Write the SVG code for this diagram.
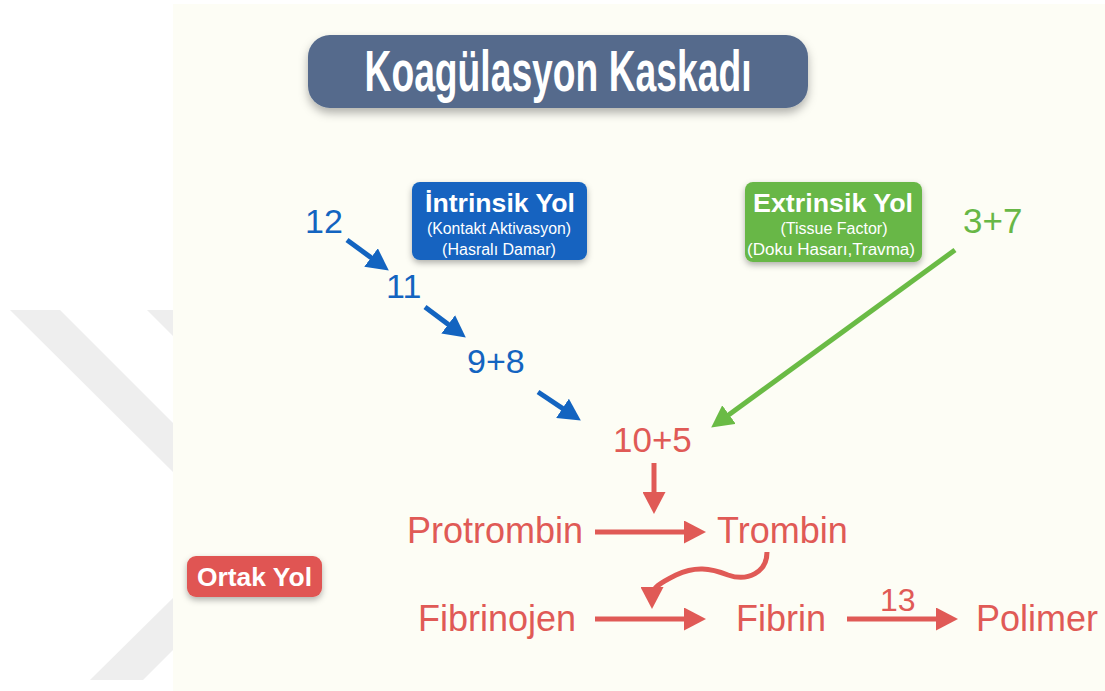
<svg xmlns="http://www.w3.org/2000/svg" width="1105" height="691" viewBox="0 0 1105 691">
<defs>
<style>
.t{font-family:"Liberation Sans",Arial,sans-serif}
.b{font-weight:bold}
.blue{fill:#1364c0}
.red{fill:#e05a56}
.green{fill:#68b746}
.wt{fill:#ffffff}
.lb{stroke:#1364c0;stroke-width:5;fill:none}
.lr{stroke:#e05a56;stroke-width:5;fill:none}
.lg{stroke:#6abb45;stroke-width:5;fill:none}
</style>
<filter id="sh" x="-10%" y="-20%" width="120%" height="160%">
<feDropShadow dx="0" dy="3" stdDeviation="3" flood-color="#000" flood-opacity="0.3"/>
</filter>
<filter id="shT" x="-10%" y="-30%" width="120%" height="180%">
<feDropShadow dx="0" dy="5" stdDeviation="5" flood-color="#000" flood-opacity="0.3"/>
</filter>
<marker id="mb" markerUnits="userSpaceOnUse" markerWidth="23" markerHeight="23" refX="9" refY="11.5" orient="auto"><path d="M0,0 L22,11.5 L0,23 z" fill="#1364c0"/></marker>
<marker id="mr" markerUnits="userSpaceOnUse" markerWidth="23" markerHeight="23" refX="9" refY="11.5" orient="auto"><path d="M0,0 L22,11.5 L0,23 z" fill="#e05a56"/></marker>
<marker id="mg" markerUnits="userSpaceOnUse" markerWidth="23" markerHeight="23" refX="9" refY="11.5" orient="auto"><path d="M0,0 L22,11.5 L0,23 z" fill="#6abb45"/></marker>
</defs>
<rect x="0" y="0" width="1105" height="691" fill="#ffffff"/>
<g id="watermark" fill="#eeeeee">
<polygon points="10,310 60,310 173,423 173,472"/>
<polygon points="147,310 173,310 173,336"/>
<polygon points="90,680 143,680 173,650 173,598"/>
</g>
<rect x="173" y="4" width="932" height="687" fill="#fdfdf5"/>

<g id="title">
<rect x="308" y="35" width="500" height="73" rx="22" fill="#546a8c" filter="url(#shT)"/>
<text class="t b wt" x="558" y="91" font-size="57" text-anchor="middle" textLength="387" lengthAdjust="spacingAndGlyphs">Koagülasyon Kaskadı</text>
</g>

<g id="intrinsic">
<rect x="412" y="182" width="175" height="78" rx="8" fill="#1364c0" filter="url(#sh)"/>
<text class="t b wt" x="500" y="212" font-size="25" text-anchor="middle" textLength="150" lengthAdjust="spacingAndGlyphs">İntrinsik Yol</text>
<text class="t wt" x="499" y="234" font-size="16" text-anchor="middle" textLength="144" lengthAdjust="spacingAndGlyphs">(Kontakt Aktivasyon)</text>
<text class="t wt" x="499" y="255" font-size="16" text-anchor="middle">(Hasralı Damar)</text>
</g>

<g id="extrinsic">
<rect x="745" y="182" width="177" height="80" rx="8" fill="#68b746" filter="url(#sh)"/>
<text class="t b wt" x="833" y="212" font-size="25" text-anchor="middle" textLength="160" lengthAdjust="spacingAndGlyphs">Extrinsik Yol</text>
<text class="t wt" x="834" y="234" font-size="16" text-anchor="middle">(Tissue Factor)</text>
<text class="t wt" x="831" y="255" font-size="16" text-anchor="middle" textLength="168" lengthAdjust="spacingAndGlyphs">(Doku Hasarı,Travma)</text>
</g>

<g id="n12"><text class="t blue" x="305" y="233" font-size="34">12</text></g>
<g id="n11"><text class="t blue" x="386" y="298" font-size="34">11</text></g>
<g id="n98"><text class="t blue" x="467" y="373" font-size="34">9+8</text></g>
<g id="n37"><text class="t green" x="963" y="233" font-size="35">3+7</text></g>
<g id="n105"><text class="t red" x="613" y="452" font-size="35">10+5</text></g>
<g id="protrombin"><text class="t red" x="407" y="543" font-size="36">Protrombin</text></g>
<g id="trombin"><text class="t red" x="717" y="543" font-size="36">Trombin</text></g>
<g id="fibrinojen"><text class="t red" x="418" y="631" font-size="36">Fibrinojen</text></g>
<g id="fibrin"><text class="t red" x="736" y="631" font-size="36">Fibrin</text></g>
<g id="polimer"><text class="t red" x="976" y="631" font-size="36">Polimer</text></g>

<g id="ortak">
<rect x="187" y="556" width="135" height="41" rx="9" fill="#e05552" filter="url(#sh)"/>
<text class="t b wt" x="254.5" y="586" font-size="26" text-anchor="middle" textLength="115" lengthAdjust="spacingAndGlyphs">Ortak Yol</text>
</g>

<g id="connectors">
<line class="lb" x1="347" y1="240" x2="378.3" y2="262.9" marker-end="url(#mb)"/>
<line class="lb" x1="425" y1="307" x2="455.4" y2="329.8" marker-end="url(#mb)"/>
<line class="lb" x1="538" y1="392" x2="570" y2="413.3" marker-end="url(#mb)"/>
<line class="lg" x1="955" y1="250" x2="721.7" y2="419.9" marker-end="url(#mg)"/>
<line class="lr" x1="654" y1="463" x2="654" y2="501" marker-end="url(#mr)"/>
<line class="lr" x1="595" y1="532" x2="693" y2="532" marker-end="url(#mr)"/>
<line class="lr" x1="595" y1="619" x2="693" y2="619" marker-end="url(#mr)"/>
<line class="lr" x1="847" y1="619" x2="945" y2="619" marker-end="url(#mr)"/>
<path class="lr" d="M767,552 C767,572 748,582 728,575 C710,568 695,566 676,575 C660,583 652,588 652,596" marker-end="url(#mr)"/>
<text class="t red" x="880" y="611" font-size="32">13</text>
</g>
</svg>
